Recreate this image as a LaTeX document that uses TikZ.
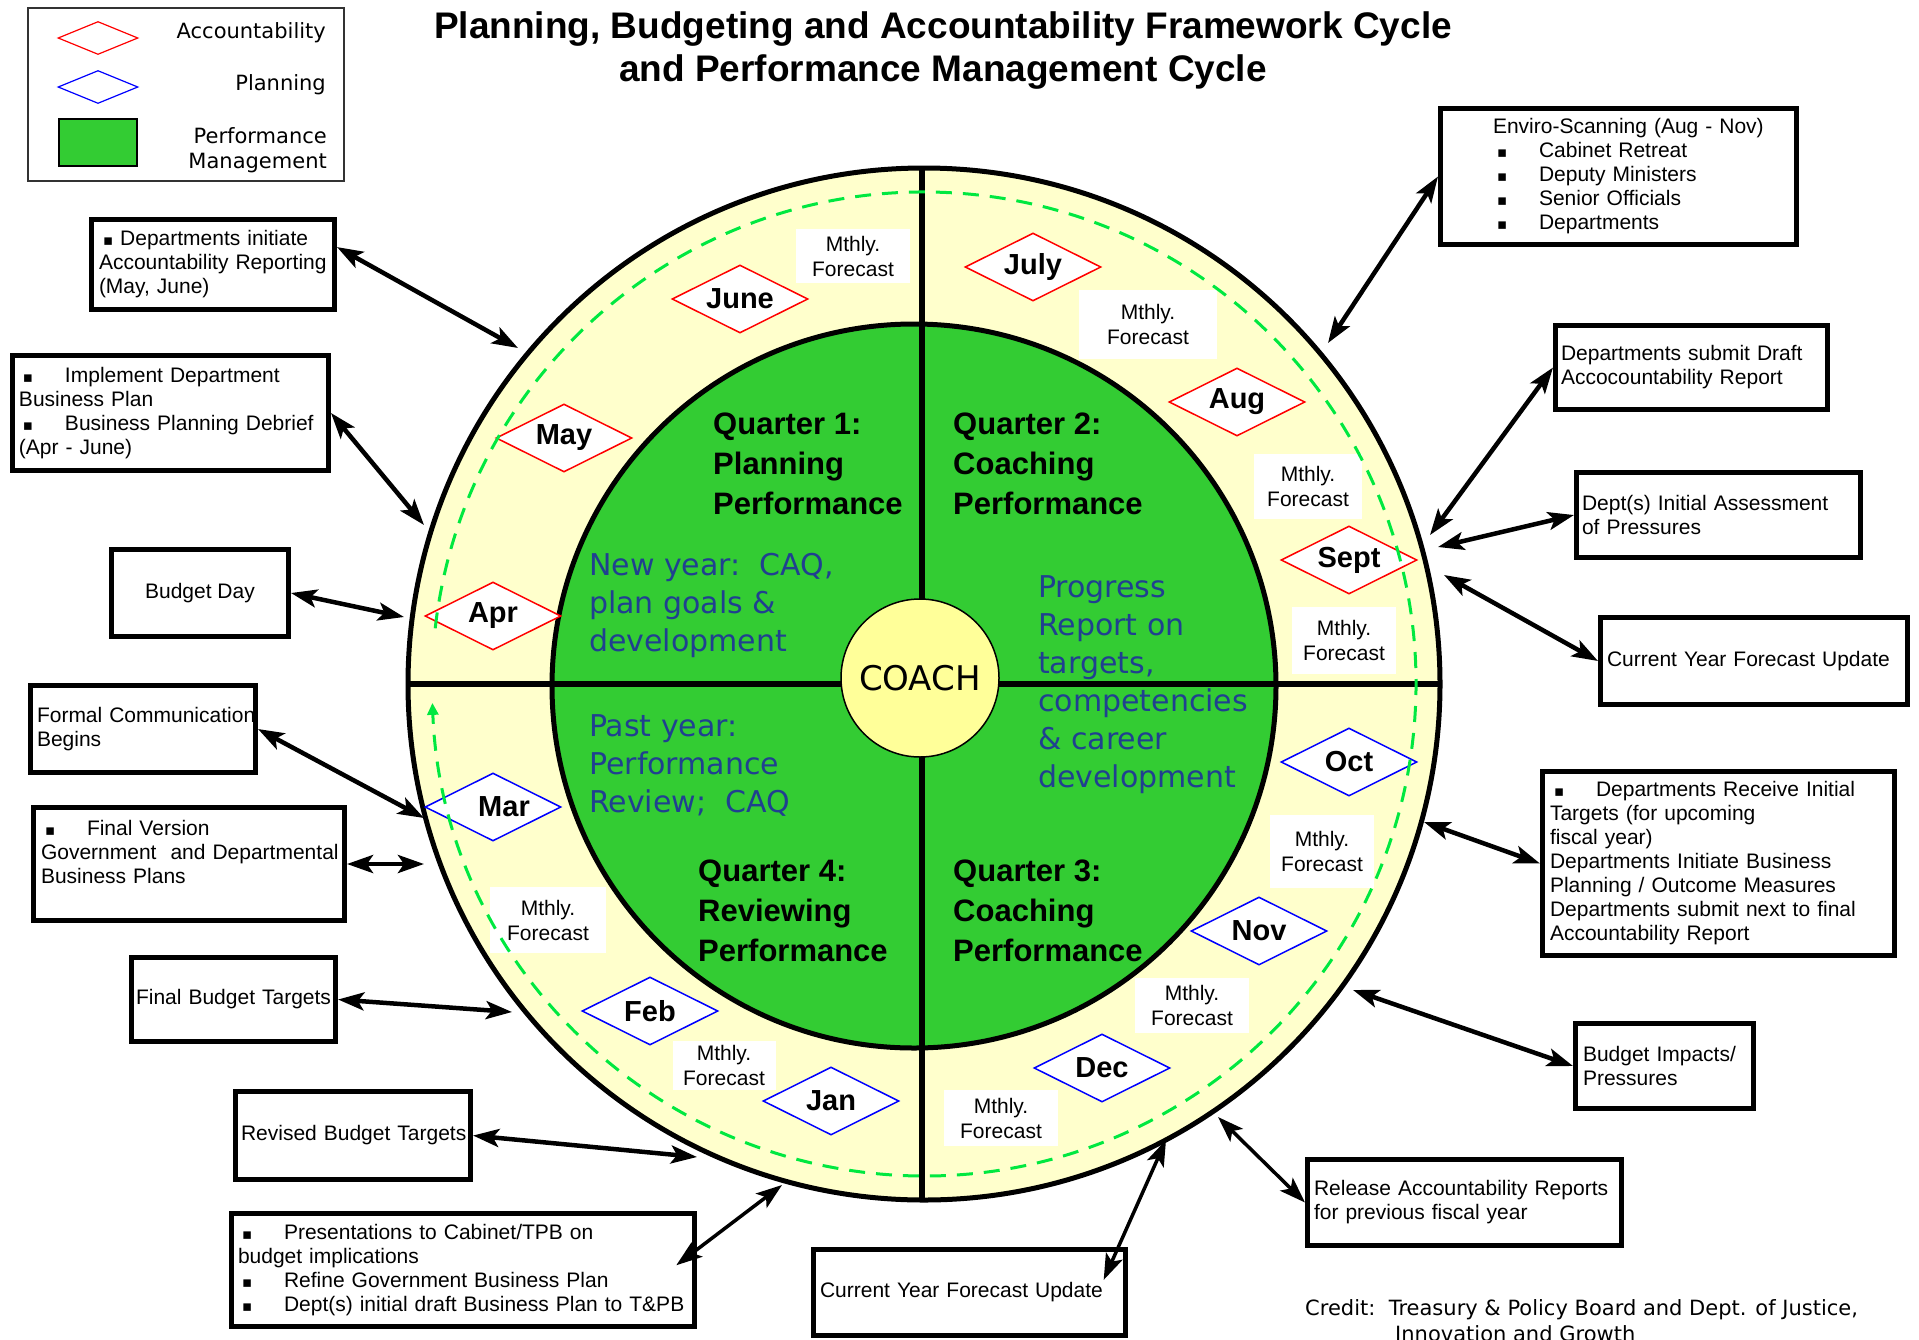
\documentclass[tikz,border=0pt]{standalone}
\usepackage{fontspec}
\setmainfont{Liberation Sans}
\newfontfamily\dejavu{DejaVu Sans}
\usepackage{tikz}
\usetikzlibrary{arrows.meta, shapes.geometric}
\definecolor{ringyellow}{RGB}{255,255,204}
\definecolor{coachyellow}{RGB}{255,255,153}
\definecolor{pmgreen}{RGB}{51,204,51}
\definecolor{dashgreen}{RGB}{0,232,64}
\definecolor{noteblue}{RGB}{32,64,144}
\newcommand{\sqb}{{\dejavu\fontsize{15}{15}\selectfont ▪}}
\newcommand{\bul}{\hspace*{4pt}\makebox[42pt][l]{\sqb}}
\tikzset{
    monthA/.style={diamond, aspect=2, draw=red, fill=white, line width=1.5pt, inner sep=0pt,
        minimum width=136pt, minimum height=68pt, font=\fontsize{29}{30}\selectfont\bfseries},
    monthP/.style={monthA, draw=blue},
    fcast/.style={fill=white, align=center, inner sep=0pt, font=\fontsize{21}{25}\selectfont},
    infobox/.style={draw, line width=5pt, align=left, inner ysep=2pt, font=\fontsize{21}{24}\selectfont},
    twoway/.style={>={Stealth[length=26pt,width=18pt,inset=6pt]}, <->, line width=4.5pt},
    qlabel/.style={anchor=west, align=left, inner sep=0pt, font=\fontsize{31}{40}\selectfont\bfseries},
    bluenote/.style={anchor=west, align=left, inner sep=0pt, text=noteblue, font=\dejavu\fontsize{30}{38}\selectfont},
    legtext/.style={anchor=east, align=right, inner sep=0pt, font=\dejavu\fontsize{21}{25}\selectfont}
}
\begin{document}
\begin{tikzpicture}[x=1pt, y=1pt, yscale=-1]
    \useasboundingbox (0,0) rectangle (1919,1339);
    \fill[white] (0,0) rectangle (1919,1339);
    \def \R {516}
    \coordinate (ctr) at (924,684);
    % the wheel
    \draw[line width=5pt, fill=ringyellow] (ctr) circle[radius=\R];
    \draw[line width=5pt, fill=pmgreen] (914,686) circle[radius=362];
    \draw[line width=5.5pt] (922,168) -- (922,1200);
    \draw[line width=5.5pt] (408,684) -- (1440,684);
    \node[circle, draw, line width=1.5pt, fill=coachyellow, minimum size=158pt, inner sep=0pt,
        font=\dejavu\fontsize{34}{34}\selectfont] (coach) at (920,678) {COACH};
    % monthly forecasts
    \node[fcast, minimum width=114pt, minimum height=54pt] (fc1) at (853,256) {Mthly.\\Forecast};
    \node[fcast, minimum width=138pt, minimum height=69pt] (fc2) at (1148,324) {Mthly.\\Forecast};
    \node[fcast, minimum width=108pt, minimum height=65pt] (fc3) at (1308,486) {Mthly.\\Forecast};
    \node[fcast, minimum width=104pt, minimum height=67pt] (fc4) at (1344,640) {Mthly.\\Forecast};
    \node[fcast, minimum width=104pt, minimum height=73pt] (fc5) at (1322,851) {Mthly.\\Forecast};
    \node[fcast, minimum width=114pt, minimum height=55pt] (fc6) at (1192,1005) {Mthly.\\Forecast};
    \node[fcast, minimum width=114pt, minimum height=56pt] (fc7) at (1001,1118) {Mthly.\\Forecast};
    \node[fcast, minimum width=103pt, minimum height=49pt] (fc8) at (724,1065) {Mthly.\\Forecast};
    \node[fcast, minimum width=116pt, minimum height=66pt] (fc9) at (548,920) {Mthly.\\Forecast};
    % months
    \node[monthA] (apr) at (493,616) {Apr};
    \node[monthA] (may) at (564,438) {May};
    \node[monthA] (jun) at (740,299) {June};
    \node[monthA] (jul) at (1033,267) {July};
    \node[monthA] (aug) at (1237,402) {Aug};
    \node[monthA] (sep) at (1349,560) {Sept};
    \node[monthP] (oct) at (1349,762) {Oct};
    \node[monthP] (nov) at (1259,931) {Nov};
    \node[monthP] (dec) at (1102,1068) {Dec};
    \node[monthP] (jan) at (831,1101) {Jan};
    \node[monthP] (feb) at (650,1011) {Feb};
    \node[monthP] (mar) at (493,807) {\hspace*{22pt}Mar};
    % the cycle
    \draw[dashgreen, line width=3pt, dash pattern=on 16pt off 11pt, arrows={-Triangle[length=12pt,width=11pt]}]
        (435.2,628.3) arc[start angle=186.5, end angle=537.8, radius=492];
    % quarters
    \node[qlabel] (q1) at (713,464) {Quarter 1:\\Planning\\Performance};
    \node[qlabel] (q2) at (953,464) {Quarter 2:\\Coaching\\Performance};
    \node[qlabel] (q3) at (953,911) {Quarter 3:\\Coaching\\Performance};
    \node[qlabel] (q4) at (698,911) {Quarter 4:\\Reviewing\\Performance};
    \node[bluenote] (newyr) at (589,605) {New year:\ \ CAQ,\\plan goals \&\\development};
    \node[bluenote] (pastyr) at (589,765) {Past year:\\Performance\\Review;\ \ CAQ};
    \node[bluenote] (progr) at (1038,685) {Progress\\Report on\\targets,\\competencies\\\& career\\development};
    % legend and title
    \node[draw=black!80, line width=2pt, minimum width=316pt, minimum height=173pt, inner sep=0pt] (legend) at (186,94.5) {};
    \node[monthA, line width=1.2pt, minimum width=80pt, minimum height=33pt] (legA) at (98,38) {};
    \node[monthP, line width=1.2pt, minimum width=80pt, minimum height=33pt] (legP) at (98,87) {};
    \node[draw, line width=2pt, fill=pmgreen, minimum width=78pt, minimum height=47pt, inner sep=0pt] (legG) at (98,142.5) {};
    \node[legtext] (legAtxt) at (326,33) {Accountability};
    \node[legtext] (legPtxt) at (326,85) {Planning};
    \node[legtext] (legGtxt) at (327,150) {Performance\\Management};
    \node[align=center, inner sep=0pt, font=\fontsize{37}{43}\selectfont\bfseries] (title) at (943,51)
        {Planning, Budgeting and Accountability Framework Cycle\\and Performance Management Cycle};
    % left boxes
    \node[infobox, minimum width=243pt, minimum height=90pt, inner xsep=7.5pt, text width=228pt] (dinit) at (213,264.5)
        {\hspace*{4pt}\sqb\ Departments initiate\\\mbox{Accountability Reporting}\\(May, June)};
    \node[infobox, minimum width=316pt, minimum height=115pt, inner xsep=6.5pt, text width=303pt] (impl) at (170.5,413)
        {\bul Implement Department\\Business Plan\\\bul Business Planning Debrief\\(Apr - June)};
    \node[infobox, align=center, minimum width=177pt, minimum height=87pt] (bday) at (200,593) {Budget Day};
    \node[infobox, minimum width=225pt, minimum height=87pt, inner xsep=6.5pt, text width=212pt] (formal) at (143,729)
        {\mbox{Formal Communication}\\Begins};
    \node[infobox, minimum width=311pt, minimum height=113pt, inner xsep=7.5pt, text width=296pt] (finalver) at (189,864)
        {\bul Final Version\\\mbox{Government\ \ and Departmental}\\Business Plans\\~};
    \node[infobox, minimum width=204.5pt, minimum height=84pt, inner xsep=5pt, text width=194.5pt] (finalbud) at (233.3,999.5)
        {\mbox{Final Budget Targets}};
    \node[infobox, minimum width=235pt, minimum height=88pt, inner xsep=5.5pt, text width=224pt] (revised) at (353,1135.5)
        {\mbox{Revised Budget Targets}};
    \node[infobox, minimum width=463pt, minimum height=113pt, inner xsep=6.5pt, text width=450pt] (present) at (463,1270)
        {\bul Presentations to Cabinet/TPB on\\budget implications\\\bul Refine Government Business Plan\\\bul Dept(s) initial draft Business Plan to T\&PB};
    \node[infobox, minimum width=312pt, minimum height=86pt, inner xsep=6.5pt, text width=299pt] (cyfub) at (969.5,1292.5)
        {\mbox{Current Year Forecast Update}};
    % right boxes
    \node[infobox, minimum width=314pt, minimum height=86pt, inner xsep=6.5pt, text width=301pt] (release) at (1464.5,1202.5)
        {\mbox{Release Accountability Reports}\\for previous fiscal year};
    \node[infobox, minimum width=356pt, minimum height=136pt, inner xsep=52.5pt, text width=251pt] (enviro) at (1618.5,176.5)
        {\mbox{Enviro-Scanning (Aug - Nov)}\\\bul Cabinet Retreat\\\bul Deputy Ministers\\\bul Senior Officials\\\bul Departments};
    \node[infobox, minimum width=272pt, minimum height=84pt, inner xsep=5.5pt, text width=261pt] (draft) at (1691.5,367.5)
        {Departments submit Draft\\Accocountability Report};
    \node[infobox, minimum width=284pt, minimum height=85pt, inner xsep=5.5pt, text width=273pt] (assess) at (1718.5,515)
        {Dept(s) Initial Assessment\\of Pressures};
    \node[infobox, minimum width=307pt, minimum height=87pt, inner xsep=6.5pt, text width=294pt] (cyfur) at (1754,661)
        {\mbox{Current Year Forecast Update}};
    \node[infobox, minimum width=352pt, minimum height=184pt, inner xsep=7.5pt, text width=337pt] (receive) at (1718.5,863.5)
        {\bul Departments Receive Initial\\Targets (for upcoming\\fiscal year)\\Departments Initiate Business\\Planning / Outcome Measures\\\mbox{Departments submit next to final}\\Accountability Report};
    \node[infobox, minimum width=178pt, minimum height=85pt, inner xsep=7.5pt, text width=163pt] (impacts) at (1664.5,1066)
        {Budget Impacts/\\Pressures};
    \node[anchor=west, align=left, inner sep=0pt, font=\dejavu\fontsize{21}{26}\selectfont] (credit) at (1305,1321)
        {Credit:\ \ Treasury \& Policy Board and Dept. of Justice,\\\hspace*{90pt}Innovation and Growth};
    % where the arrows meet the wheel
    \coordinate (cDinit) at (518,348);
    \coordinate (cImpl) at (424,525);
    \coordinate (cBday) at (404,617);
    \coordinate (cFormal) at (424,818);
    \coordinate (cFinalver) at (424,864);
    \coordinate (cFinalbud) at (512,1012);
    \coordinate (cRevised) at (697,1157);
    \coordinate (cPresent) at (782,1185);
    \coordinate (cCyfub) at (1166,1140);
    \coordinate (cRelease) at (1218,1117);
    \coordinate (cImpacts) at (1353,990);
    \coordinate (cReceive) at (1424,822);
    \coordinate (cCyfur) at (1444,575);
    \coordinate (cAssess) at (1438,547);
    \coordinate (cDraft) at (1430,535);
    \coordinate (cEnviro) at (1328,343);
    \draw[twoway] (dinit.8) -- (cDinit);
    \draw[twoway] (impl.east) -- (cImpl);
    \draw[twoway] (bday.east) -- (cBday);
    \draw[twoway] (formal.east) -- (cFormal);
    \draw[twoway] (finalver.east) -- (cFinalver);
    \draw[twoway] (finalbud.east) -- (cFinalbud);
    \draw[twoway] (revised.east) -- (cRevised);
    \draw[twoway, line width=3.5pt, shorten <=-26pt] (present.5) -- (cPresent);
    \draw[twoway, line width=3.5pt, shorten <=-36pt] (cyfub.17) -- (cCyfub);
    \draw[twoway, line width=3.5pt] (release.west) -- (cRelease);
    \draw[twoway] (impacts.west) -- (cImpacts);
    \draw[twoway] (receive.west) -- (cReceive);
    \draw[twoway] (cyfur.west) -- (cCyfur);
    \draw[twoway] (assess.west) -- (cAssess);
    \draw[twoway] (draft.west) -- (cDraft);
    \draw[twoway] (enviro.west) -- (cEnviro);
\end{tikzpicture}
\end{document}
